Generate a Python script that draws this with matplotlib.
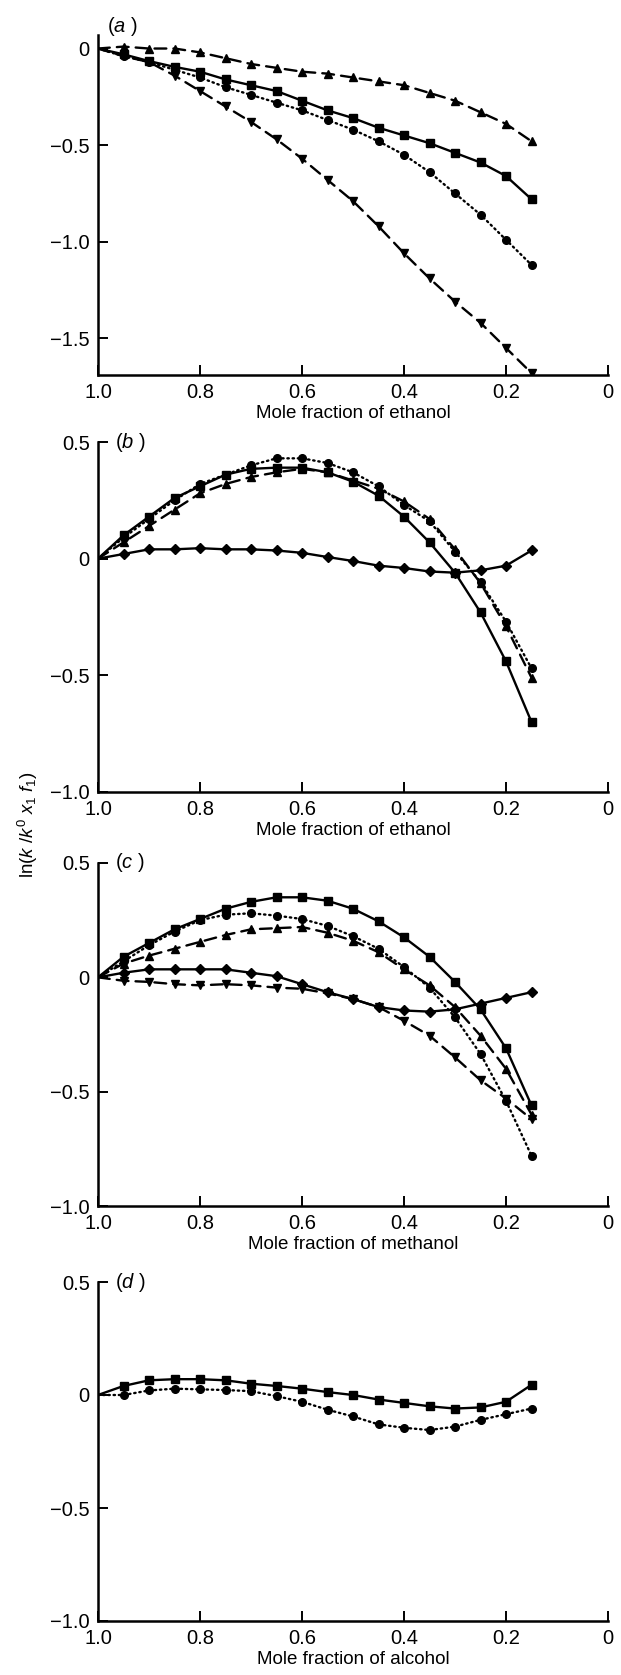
import numpy as np
import matplotlib
matplotlib.use('Agg')
import matplotlib.pyplot as plt
from matplotlib.ticker import FuncFormatter

plt.rcParams['font.family'] = ['Liberation Sans', 'DejaVu Sans']
plt.rcParams['mathtext.fontset'] = 'custom'
plt.rcParams['mathtext.rm'] = 'Liberation Sans'
plt.rcParams['mathtext.it'] = 'Liberation Sans:italic'

# mole fraction of alcohol (first point 1.0 has no marker)
x = [1.0, 0.95, 0.9, 0.85, 0.8, 0.75, 0.7, 0.65, 0.6, 0.55,
     0.5, 0.45, 0.4, 0.35, 0.3, 0.25, 0.2, 0.15]

# panel (a)
a_tri_up = [0, 0.01, 0.0, 0.0, -0.02, -0.05, -0.08, -0.10, -0.12, -0.13,
            -0.15, -0.17, -0.19, -0.23, -0.27, -0.33, -0.39, -0.48]
a_square = [0, -0.03, -0.065, -0.095, -0.12, -0.16, -0.19, -0.22, -0.27, -0.32,
            -0.36, -0.41, -0.45, -0.49, -0.54, -0.59, -0.66, -0.78]
a_circle = [0, -0.04, -0.07, -0.11, -0.15, -0.20, -0.24, -0.28, -0.32, -0.37,
            -0.42, -0.48, -0.55, -0.64, -0.75, -0.86, -0.99, -1.12]
a_tri_down = [0, -0.04, -0.07, -0.14, -0.22, -0.30, -0.38, -0.47, -0.57, -0.68,
              -0.79, -0.92, -1.06, -1.19, -1.31, -1.42, -1.55, -1.68]

# panel (b)
b_diamond = [0, 0.02, 0.04, 0.04, 0.045, 0.04, 0.04, 0.035, 0.025, 0.007,
             -0.01, -0.03, -0.04, -0.055, -0.06, -0.05, -0.03, 0.035]
b_square = [0, 0.10, 0.18, 0.26, 0.31, 0.36, 0.385, 0.39, 0.39, 0.37,
            0.33, 0.27, 0.18, 0.07, -0.06, -0.23, -0.44, -0.70]
b_circle = [0, 0.09, 0.17, 0.25, 0.32, 0.36, 0.40, 0.43, 0.43, 0.41,
            0.37, 0.31, 0.23, 0.16, 0.03, -0.10, -0.27, -0.47]
b_tri_up = [0, 0.07, 0.14, 0.21, 0.28, 0.32, 0.35, 0.37, 0.385, 0.37,
            0.335, 0.30, 0.245, 0.17, 0.04, -0.105, -0.29, -0.51]

# panel (c)
c_square = [0, 0.09, 0.15, 0.21, 0.255, 0.30, 0.33, 0.35, 0.35, 0.335,
            0.30, 0.245, 0.175, 0.09, -0.02, -0.14, -0.31, -0.56]
c_circle = [0, 0.07, 0.14, 0.20, 0.25, 0.274, 0.28, 0.27, 0.255, 0.225,
            0.18, 0.125, 0.045, -0.045, -0.175, -0.335, -0.54, -0.78]
c_tri_up = [0, 0.06, 0.095, 0.125, 0.155, 0.185, 0.21, 0.215, 0.22, 0.195,
            0.16, 0.11, 0.035, -0.035, -0.13, -0.255, -0.40, -0.60]
c_diamond = [0, 0.02, 0.035, 0.035, 0.035, 0.035, 0.02, 0.005, -0.03, -0.065,
             -0.095, -0.13, -0.145, -0.15, -0.14, -0.115, -0.09, -0.065]
c_tri_down = [0, -0.015, -0.02, -0.03, -0.035, -0.03, -0.035, -0.045, -0.05, -0.07,
              -0.095, -0.13, -0.19, -0.255, -0.35, -0.45, -0.53, -0.62]

# panel (d)
d_square = [0, 0.04, 0.065, 0.07, 0.07, 0.065, 0.05, 0.04, 0.028, 0.013,
            0.0, -0.02, -0.035, -0.05, -0.06, -0.055, -0.03, 0.045]
d_circle = [0, 0.0, 0.02, 0.028, 0.025, 0.022, 0.017, -0.005, -0.03, -0.065,
            -0.095, -0.13, -0.145, -0.155, -0.14, -0.11, -0.085, -0.06]

xlabels = ['Mole fraction of ethanol', 'Mole fraction of ethanol',
           'Mole fraction of methanol', 'Mole fraction of alcohol']
panel_tags = ['a', 'b', 'c', 'd']

solid = '-'
dashed = (0, (5, 3))
dotted = (0, (0.6, 1.6))

panels = [
    [(a_tri_up, '^', dashed), (a_square, 's', solid), (a_circle, 'o', dotted), (a_tri_down, 'v', dashed)],
    [(b_diamond, 'D', solid), (b_square, 's', solid), (b_circle, 'o', dotted), (b_tri_up, '^', dashed)],
    [(c_square, 's', solid), (c_circle, 'o', dotted), (c_tri_up, '^', dashed),
     (c_diamond, 'D', solid), (c_tri_down, 'v', dashed)],
    [(d_square, 's', solid), (d_circle, 'o', dotted)],
]

fig = plt.figure(figsize=(6.21, 16.75), dpi=100)
left, width = 98 / 621, 510 / 621
rects = [(375, 340), (792, 350), (1206, 343), (1621, 339)]
ylims = [(-1.69, 0.07), (-1.0, 0.5), (-1.0, 0.5), (-1.0, 0.5)]
yticks = [[0, -0.5, -1.0, -1.5], [0.5, 0, -0.5, -1.0], [0.5, 0, -0.5, -1.0], [0.5, 0, -0.5, -1.0]]


def fmt(v, pos):
    if abs(v) < 1e-9:
        return '0'
    return ('%.1f' % v).replace('-', '\u2212')


for i, (bottom, h) in enumerate(rects):
    ax = fig.add_axes([left, 1 - bottom / 1675, width, h / 1675])
    for ys, mk, ls in panels[i]:
        ms = 5.5 if mk in ('s', 'o') else 6
        if mk == 'D':
            ms = 5
        ax.plot(x, ys, color='black', linestyle=ls, linewidth=1.7,
                marker=mk, markersize=ms, markevery=slice(1, None),
                dash_capstyle='round')
    ax.set_xlim(1.0, 0.0)
    ax.set_ylim(*ylims[i])
    ax.set_xticks([1.0, 0.8, 0.6, 0.4, 0.2, 0.0])
    ax.set_yticks(yticks[i])
    ax.xaxis.set_major_formatter(FuncFormatter(fmt))
    ax.yaxis.set_major_formatter(FuncFormatter(fmt))
    ax.spines['top'].set_visible(False)
    ax.spines['right'].set_visible(False)
    for s in ('left', 'bottom'):
        ax.spines[s].set_linewidth(1.8)
    ax.tick_params(direction='in', length=7, width=1.4, labelsize=14.5, pad=6)
    ax.set_xlabel(xlabels[i], fontsize=13.5, labelpad=2)
    if i == 0:
        ax.text(0.018, 1.024, r'($\mathit{a}$ )', transform=ax.transAxes,
                fontsize=14.5, ha='left', va='center')
    else:
        ax.text(0.033, 1.0, r'($\mathit{%s}$ )' % panel_tags[i], transform=ax.transAxes,
                fontsize=14.5, ha='left', va='center')

fig.text(28 / 621, 1 - 825 / 1675, r'ln($k$ /$k^{0}$ $x_{1}$ $f_{1}$)',
         rotation=90, fontsize=13.5, ha='center', va='center')

fig.savefig('out.png', dpi=100)
